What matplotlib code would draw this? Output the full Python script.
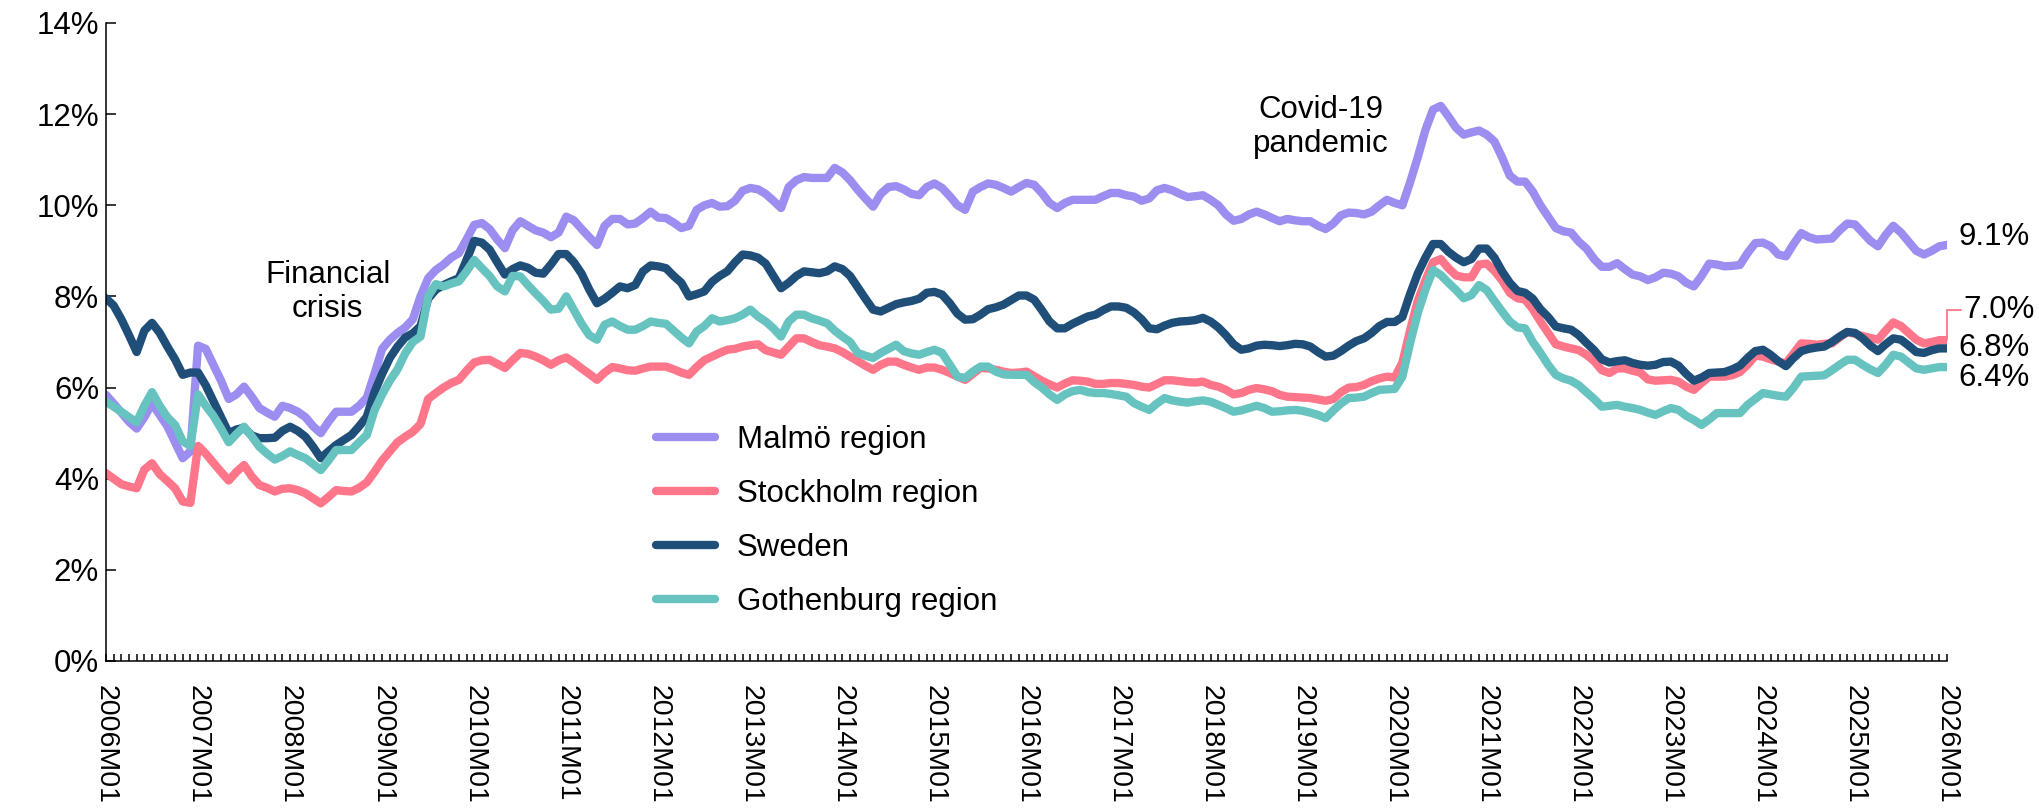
import numpy as np
import matplotlib
matplotlib.use("Agg")
import matplotlib.pyplot as plt
from matplotlib.ticker import FixedLocator, MultipleLocator, FuncFormatter

plt.rcParams['font.family'] = ['Liberation Sans', 'DejaVu Sans']

# monthly categories 2006M01 .. 2026M01
months = [f"{yr}M{mo:02d}" for yr in range(2006, 2026) for mo in range(1, 13)] + ["2026M01"]

# unemployment rate, % (one row per year)
malmo = [
    5.84, 5.65, 5.45, 5.25, 5.10, 5.35, 5.65, 5.40, 5.15, 4.80, 4.45, 4.60,
    6.92, 6.85, 6.50, 6.15, 5.75, 5.85, 6.02, 5.80, 5.55, 5.45, 5.36, 5.60,
    5.55, 5.47, 5.35, 5.15, 5.00, 5.25, 5.47, 5.47, 5.47, 5.60, 5.78, 6.30,
    6.85, 7.05, 7.20, 7.32, 7.50, 8.00, 8.40, 8.58, 8.70, 8.85, 8.95, 9.25,
    9.57, 9.61, 9.48, 9.25, 9.06, 9.45, 9.65, 9.55, 9.45, 9.40, 9.30, 9.40,
    9.75, 9.67, 9.48, 9.30, 9.13, 9.55, 9.70, 9.70, 9.58, 9.60, 9.72, 9.86,
    9.73, 9.72, 9.62, 9.50, 9.55, 9.90, 10.00, 10.05, 9.97, 9.98, 10.10, 10.32,
    10.38, 10.35, 10.25, 10.10, 9.94, 10.40, 10.55, 10.62, 10.60, 10.60, 10.60, 10.82,
    10.72, 10.55, 10.34, 10.15, 9.97, 10.25, 10.40, 10.42, 10.35, 10.25, 10.22, 10.40,
    10.48, 10.38, 10.20, 10.00, 9.90, 10.30, 10.40, 10.48, 10.45, 10.38, 10.30, 10.40,
    10.49, 10.45, 10.27, 10.05, 9.94, 10.05, 10.12, 10.12, 10.12, 10.12, 10.20, 10.27,
    10.27, 10.22, 10.19, 10.10, 10.15, 10.33, 10.38, 10.33, 10.25, 10.18, 10.20, 10.22,
    10.12, 10.00, 9.80, 9.66, 9.70, 9.80, 9.86, 9.80, 9.72, 9.65, 9.70, 9.67,
    9.65, 9.65, 9.55, 9.48, 9.60, 9.78, 9.84, 9.83, 9.80, 9.86, 10.00, 10.12,
    10.05, 10.00, 10.50, 11.05, 11.65, 12.10, 12.18, 11.95, 11.70, 11.55, 11.60, 11.64,
    11.55, 11.40, 11.05, 10.65, 10.52, 10.52, 10.30, 10.00, 9.75, 9.50, 9.43, 9.40,
    9.20, 9.05, 8.82, 8.65, 8.65, 8.73, 8.60, 8.48, 8.44, 8.36, 8.42, 8.52,
    8.50, 8.44, 8.30, 8.22, 8.45, 8.72, 8.70, 8.66, 8.67, 8.69, 8.95, 9.17,
    9.18, 9.10, 8.92, 8.88, 9.15, 9.39, 9.30, 9.25, 9.26, 9.27, 9.45, 9.60,
    9.58, 9.40, 9.22, 9.10, 9.35, 9.55, 9.40, 9.20, 9.00, 8.92, 9.00, 9.10,
    9.13,
]

stockholm = [
    4.12, 4.00, 3.88, 3.83, 3.79, 4.20, 4.34, 4.10, 3.95, 3.79, 3.50, 3.47,
    4.72, 4.55, 4.35, 4.15, 3.96, 4.15, 4.30, 4.05, 3.86, 3.80, 3.72, 3.78,
    3.79, 3.75, 3.68, 3.57, 3.46, 3.60, 3.75, 3.73, 3.72, 3.80, 3.92, 4.15,
    4.40, 4.60, 4.80, 4.92, 5.03, 5.20, 5.75, 5.88, 6.00, 6.10, 6.17, 6.37,
    6.55, 6.60, 6.61, 6.52, 6.43, 6.60, 6.76, 6.74, 6.68, 6.60, 6.50, 6.60,
    6.66, 6.55, 6.42, 6.30, 6.17, 6.33, 6.45, 6.42, 6.38, 6.37, 6.42, 6.46,
    6.46, 6.46, 6.40, 6.33, 6.28, 6.45, 6.60, 6.68, 6.76, 6.83, 6.85, 6.90,
    6.93, 6.95, 6.82, 6.77, 6.72, 6.90, 7.08, 7.08, 7.00, 6.93, 6.90, 6.86,
    6.78, 6.68, 6.58, 6.48, 6.39, 6.50, 6.57, 6.57, 6.50, 6.44, 6.39, 6.44,
    6.44, 6.39, 6.32, 6.24, 6.17, 6.30, 6.43, 6.42, 6.39, 6.35, 6.32, 6.33,
    6.35, 6.25, 6.15, 6.07, 6.00, 6.09, 6.16, 6.15, 6.13, 6.08, 6.08, 6.10,
    6.10, 6.08, 6.06, 6.02, 6.00, 6.08, 6.16, 6.16, 6.14, 6.12, 6.11, 6.13,
    6.06, 6.02, 5.95, 5.85, 5.88, 5.95, 5.99, 5.96, 5.92, 5.84, 5.80, 5.79,
    5.78, 5.77, 5.74, 5.71, 5.75, 5.90, 6.00, 6.01, 6.06, 6.14, 6.20, 6.24,
    6.22, 6.55, 7.25, 7.90, 8.35, 8.75, 8.82, 8.62, 8.46, 8.42, 8.42, 8.70,
    8.72, 8.56, 8.35, 8.08, 7.96, 7.93, 7.72, 7.45, 7.20, 6.95, 6.90, 6.86,
    6.82, 6.72, 6.58, 6.38, 6.32, 6.42, 6.42, 6.37, 6.33, 6.18, 6.15, 6.16,
    6.17, 6.13, 6.02, 5.95, 6.10, 6.24, 6.24, 6.24, 6.27, 6.34, 6.50, 6.70,
    6.68, 6.62, 6.57, 6.53, 6.75, 6.97, 6.96, 6.94, 6.96, 6.97, 7.10, 7.22,
    7.18, 7.13, 7.09, 7.05, 7.25, 7.43, 7.35, 7.20, 7.05, 6.97, 7.00, 7.04,
    7.04,
]

sweden = [
    7.96, 7.80, 7.50, 7.15, 6.78, 7.25, 7.42, 7.20, 6.90, 6.62, 6.28, 6.33,
    6.33, 6.05, 5.70, 5.35, 5.00, 5.08, 5.12, 4.95, 4.89, 4.89, 4.90, 5.05,
    5.14, 5.05, 4.92, 4.70, 4.45, 4.60, 4.74, 4.85, 4.96, 5.15, 5.36, 5.90,
    6.30, 6.65, 6.90, 7.10, 7.19, 7.35, 7.95, 8.15, 8.25, 8.33, 8.40, 8.80,
    9.22, 9.18, 9.03, 8.75, 8.48, 8.60, 8.68, 8.63, 8.52, 8.50, 8.70, 8.93,
    8.93, 8.75, 8.50, 8.15, 7.85, 7.95, 8.08, 8.22, 8.18, 8.25, 8.55, 8.68,
    8.66, 8.62, 8.45, 8.30, 8.00, 8.05, 8.11, 8.32, 8.45, 8.55, 8.75, 8.92,
    8.90, 8.85, 8.72, 8.45, 8.18, 8.30, 8.45, 8.55, 8.53, 8.51, 8.55, 8.66,
    8.60, 8.45, 8.20, 7.95, 7.71, 7.67, 7.75, 7.83, 7.87, 7.90, 7.95, 8.08,
    8.10, 8.04, 7.85, 7.62, 7.49, 7.50, 7.60, 7.72, 7.76, 7.82, 7.92, 8.02,
    8.02, 7.93, 7.70, 7.45, 7.30, 7.30, 7.40, 7.48, 7.56, 7.60, 7.70, 7.78,
    7.78, 7.75, 7.65, 7.50, 7.30, 7.28, 7.36, 7.42, 7.45, 7.46, 7.48, 7.53,
    7.45, 7.32, 7.15, 6.95, 6.83, 6.86, 6.92, 6.94, 6.93, 6.91, 6.93, 6.96,
    6.95, 6.90, 6.78, 6.68, 6.70, 6.80, 6.92, 7.02, 7.08, 7.20, 7.35, 7.44,
    7.44, 7.55, 8.05, 8.50, 8.85, 9.15, 9.15, 8.98, 8.85, 8.75, 8.82, 9.05,
    9.05, 8.85, 8.55, 8.30, 8.12, 8.08, 7.95, 7.72, 7.55, 7.34, 7.30, 7.27,
    7.15, 6.98, 6.82, 6.62, 6.55, 6.58, 6.60, 6.54, 6.50, 6.48, 6.50, 6.56,
    6.57, 6.48, 6.30, 6.15, 6.22, 6.32, 6.33, 6.34, 6.40, 6.48, 6.65, 6.80,
    6.83, 6.72, 6.58, 6.47, 6.65, 6.80, 6.85, 6.88, 6.90, 7.00, 7.12, 7.22,
    7.20, 7.08, 6.92, 6.80, 6.95, 7.08, 7.05, 6.92, 6.78, 6.76, 6.82, 6.86,
    6.86,
]

gothenburg = [
    5.69, 5.58, 5.47, 5.35, 5.24, 5.60, 5.90, 5.60, 5.35, 5.18, 4.82, 4.72,
    5.85, 5.60, 5.38, 5.10, 4.80, 4.98, 5.14, 4.93, 4.70, 4.55, 4.42, 4.50,
    4.60, 4.52, 4.45, 4.32, 4.19, 4.40, 4.63, 4.63, 4.63, 4.80, 4.96, 5.50,
    5.85, 6.15, 6.40, 6.75, 7.00, 7.12, 8.00, 8.27, 8.22, 8.28, 8.33, 8.55,
    8.80, 8.62, 8.45, 8.22, 8.11, 8.45, 8.44, 8.25, 8.07, 7.90, 7.71, 7.73,
    8.00, 7.70, 7.40, 7.15, 7.05, 7.38, 7.45, 7.35, 7.27, 7.27, 7.35, 7.45,
    7.42, 7.40, 7.25, 7.10, 6.97, 7.23, 7.35, 7.52, 7.45, 7.48, 7.52, 7.60,
    7.71, 7.56, 7.45, 7.30, 7.12, 7.45, 7.60, 7.60, 7.52, 7.47, 7.41, 7.25,
    7.12, 7.00, 6.76, 6.70, 6.65, 6.76, 6.85, 6.94, 6.80, 6.75, 6.72, 6.78,
    6.83, 6.76, 6.50, 6.24, 6.21, 6.35, 6.46, 6.46, 6.35, 6.29, 6.28, 6.28,
    6.28, 6.12, 6.00, 5.85, 5.73, 5.85, 5.92, 5.95, 5.90, 5.88, 5.88, 5.86,
    5.83, 5.80, 5.66, 5.58, 5.51, 5.65, 5.77, 5.72, 5.69, 5.67, 5.70, 5.72,
    5.69, 5.62, 5.55, 5.47, 5.50, 5.55, 5.60, 5.55, 5.47, 5.48, 5.50, 5.51,
    5.49, 5.45, 5.40, 5.33, 5.50, 5.65, 5.77, 5.78, 5.80, 5.88, 5.95, 5.96,
    5.97, 6.24, 6.97, 7.63, 8.15, 8.58, 8.47, 8.30, 8.14, 7.96, 8.03, 8.25,
    8.14, 7.90, 7.67, 7.45, 7.32, 7.30, 7.00, 6.76, 6.50, 6.28, 6.20, 6.15,
    6.05, 5.90, 5.75, 5.58, 5.60, 5.62, 5.58, 5.55, 5.51, 5.45, 5.40, 5.48,
    5.55, 5.51, 5.38, 5.29, 5.18, 5.30, 5.44, 5.44, 5.44, 5.44, 5.62, 5.75,
    5.88, 5.85, 5.82, 5.80, 6.00, 6.24, 6.25, 6.26, 6.27, 6.38, 6.50, 6.61,
    6.61, 6.50, 6.40, 6.32, 6.50, 6.72, 6.68, 6.55, 6.42, 6.39, 6.42, 6.45,
    6.45,
]

series_names = ["Malmö region", "Stockholm region", "Sweden", "Gothenburg region"]
series_colors = ["#9b8ef0", "#ff7589", "#1f4e79", "#67c3bf"]
end_labels = ["9.1%", "7.0%", "6.8%", "6.4%"]

fig = plt.figure(figsize=(20.39, 8.09), dpi=100)
ax = fig.add_axes([106 / 2039, 148 / 809, 1841 / 2039, 638 / 809])

x = np.arange(len(months))
for vals, name, col in zip([malmo, stockholm, sweden, gothenburg], series_names, series_colors):
    ax.plot(x, vals, color=col, lw=6, label=name,
            solid_joinstyle='round', solid_capstyle='round')

ax.set_xlim(0, len(months) - 1)
ax.set_ylim(0, 14)

for s in ['top', 'right']:
    ax.spines[s].set_visible(False)
for s in ['left', 'bottom']:
    ax.spines[s].set_linewidth(1.1)

fs = 22.5
ax.yaxis.set_major_locator(MultipleLocator(2))
ax.yaxis.set_major_formatter(FuncFormatter(lambda v, p: f"{v:.0f}%"))
ax.tick_params(axis='y', direction='in', length=7, width=1.1, pad=5, labelsize=fs)

ax.xaxis.set_major_locator(FixedLocator(x[::12]))
ax.xaxis.set_minor_locator(FixedLocator(x))
ax.set_xticklabels(months[::12], rotation=-90, fontsize=20.5)
ax.tick_params(axis='x', which='both', direction='in', length=5, width=1.1, pad=17)

# end-of-line value labels
offsets = [(8, 6), (12, 22), (8, 0), (8, -8)]
for vals, lab, col, off in zip([malmo, stockholm, sweden, gothenburg], end_labels, series_colors, offsets):
    if lab == "7.0%":
        ax.annotate(lab, xy=(x[-1], vals[-1]), xytext=off, textcoords='offset points',
                    fontsize=fs, va='center', ha='left', annotation_clip=False,
                    arrowprops=dict(arrowstyle='-', color=col, lw=1.3, shrinkA=0, shrinkB=0,
                                    connectionstyle='angle,angleA=0,angleB=90,rad=0'))
    else:
        ax.annotate(lab, xy=(x[-1], vals[-1]), xytext=off, textcoords='offset points',
                    fontsize=fs, va='center', ha='left', annotation_clip=False)

ax.text(28.9, 8.1, "Financial\ncrisis", fontsize=fs, ha='center', va='center', multialignment='center')
ax.text(158.4, 11.72, "Covid-19\npandemic", fontsize=fs, ha='center', va='center', multialignment='center')

ax.legend(loc='center left', bbox_to_anchor=(643 / 2039, 288 / 809), bbox_transform=fig.transFigure,
          frameon=False, fontsize=fs, handlelength=1.9, handletextpad=0.7, labelspacing=0.76,
          borderaxespad=0)

fig.savefig("out.png", dpi=100)
